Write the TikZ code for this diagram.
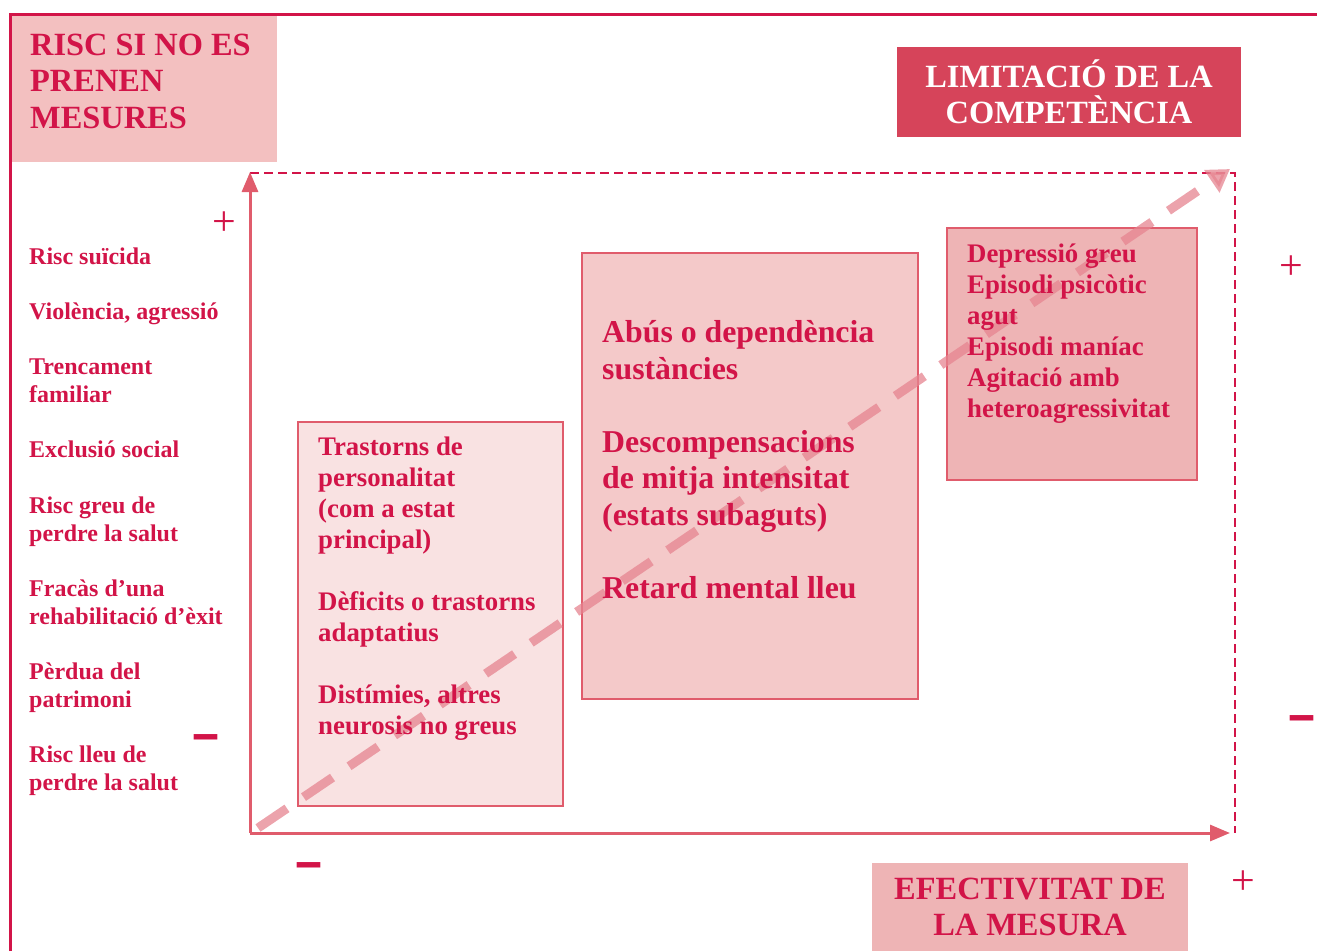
\documentclass[tikz,border=0pt]{standalone}
\usepackage{fontspec}
\setmainfont{Liberation Serif}
\usetikzlibrary{arrows.meta}

\definecolor{riscred}{RGB}{210,20,72}
\definecolor{axisred}{RGB}{224,92,108}
\definecolor{titlebg}{RGB}{214,68,90}
\definecolor{riscbg}{RGB}{243,192,192}
\definecolor{boxone}{RGB}{249,226,226}
\definecolor{boxtwo}{RGB}{244,201,201}
\definecolor{boxthree}{RGB}{238,180,181}
\definecolor{trendpink}{RGB}{230,132,144}

\begin{document}
\begin{tikzpicture}[x=1pt, y=-1pt,
	titletext/.style={inner sep=0pt, align=center, font=\bfseries\fontsize{32.4}{36.5}\selectfont},
	grouptext/.style={anchor=base west, inner sep=0pt, align=left, text=riscred},
	groupbox/.style={draw=axisred, line width=1.8pt, anchor=north west},
	signtext/.style={inner sep=0pt, text=riscred, font=\fontsize{42}{42}\selectfont},
	minustext/.style={inner sep=0pt, text=riscred, font=\bfseries\fontsize{46}{46}\selectfont},
	axis/.style={axisred, line width=3pt, -{Triangle[length=20pt,width=16pt]}},
	dashedframe/.style={riscred, line width=2.2pt, dash pattern=on 9pt off 5pt}]

	\useasboundingbox (0,0) rectangle (1317,951);

	%% The frame
	\draw[riscred, line width=3pt] (10,951) -- (10,14) -- (1317,14);

	%% The titles (multi-line nodes sit on their last baseline)
	\node[fill=riscbg, minimum width=265pt, minimum height=146pt, anchor=north west] (risc box) at (12,16) {};
	\node[titletext, align=left, anchor=base west, text=riscred] (risc) at (30,128) {RISC SI NO ES\\PRENEN\\MESURES};
	\node[titletext, fill=titlebg, text=white, minimum width=344pt, minimum height=90pt] (limit) at (1069,92) {LIMITACIÓ DE LA\\COMPETÈNCIA};
	\node[titletext, fill=boxthree, text=riscred, minimum width=316pt, minimum height=88pt] (efect) at (1030,907) {EFECTIVITAT DE\\LA MESURA};

	%% The risk list
	\begin{scope}[every node/.style={grouptext, font=\bfseries\fontsize{24}{28}\selectfont}]
		\node (r1) at (29,264) {Risc suïcida};
		\node (r2) at (29,319) {Violència, agressió};
		\node (r3) at (29,402) {Trencament\\familiar};
		\node (r4) at (29,457) {Exclusió social};
		\node (r5) at (29,541) {Risc greu de\\perdre la salut};
		\node (r6) at (29,624) {Fracàs d’una\\rehabilitació d’èxit};
		\node (r7) at (29,707) {Pèrdua del\\patrimoni};
		\node (r8) at (29,790) {Risc lleu de\\perdre la salut};
	\end{scope}

	%% The axes
	\coordinate (origin) at (250,833);
	\coordinate (ytop) at (250,172);
	\coordinate (xend) at (1230,833);
	\coordinate (top left) at (250,173);
	\coordinate (top right) at (1235,173);
	\coordinate (bottom right) at (1235,833);
	\draw[dashedframe] (top left) -- (top right) -- (bottom right);
	\draw[axis] (origin) -- (ytop);
	\draw[axis] (origin) -- (xend);

	%% The groups
	\node[groupbox, fill=boxone, minimum width=265pt, minimum height=384pt] (g1) at (297,421) {};
	\node[groupbox, fill=boxtwo, minimum width=336pt, minimum height=446pt] (g2) at (581,252) {};
	\node[groupbox, fill=boxthree, minimum width=250pt, minimum height=252pt] (g3) at (946,227) {};

	%% The trend
	\coordinate (trend start) at (258,828);
	\coordinate (trend end) at (1230,169);
	\draw[trendpink, opacity=0.75, line width=9pt, dash pattern=on 35pt off 20pt,
		-{Triangle[length=22pt,width=26pt]}] (trend start) -- (trend end);

	\node[grouptext, font=\bfseries\fontsize{26.8}{31}\selectfont] (g1 text) at (318,734)
		{Trastorns de\\personalitat\\(com a estat\\principal)\\[31pt]Dèficits o trastorns\\adaptatius\\[31pt]Distímies, altres\\neurosis no greus};
	\node[grouptext, font=\bfseries\fontsize{31.8}{36.5}\selectfont] (g2 text) at (602,598)
		{Abús o dependència\\sustàncies\\[36.5pt]Descompensacions\\de mitja intensitat\\(estats subaguts)\\[36.5pt]Retard mental lleu};
	\node[grouptext, font=\bfseries\fontsize{26.8}{31}\selectfont] (g3 text) at (967,417)
		{Depressió greu\\Episodi psicòtic\\agut\\Episodi maníac\\Agitació amb\\heteroagressivitat};

	%% The signs
	\node[signtext] (y plus) at (224,224) {+};
	\node[minustext] (y minus) at (206,745) {\scalebox{1}[1.7]{–}};
	\node[signtext] (r plus) at (1291,268) {+};
	\node[minustext] (r minus) at (1302,726) {\scalebox{1}[1.7]{–}};
	\node[minustext] (x minus) at (309,873) {\scalebox{1}[1.7]{–}};
	\node[signtext] (x plus) at (1243,883) {+};

\end{tikzpicture}
\end{document}
